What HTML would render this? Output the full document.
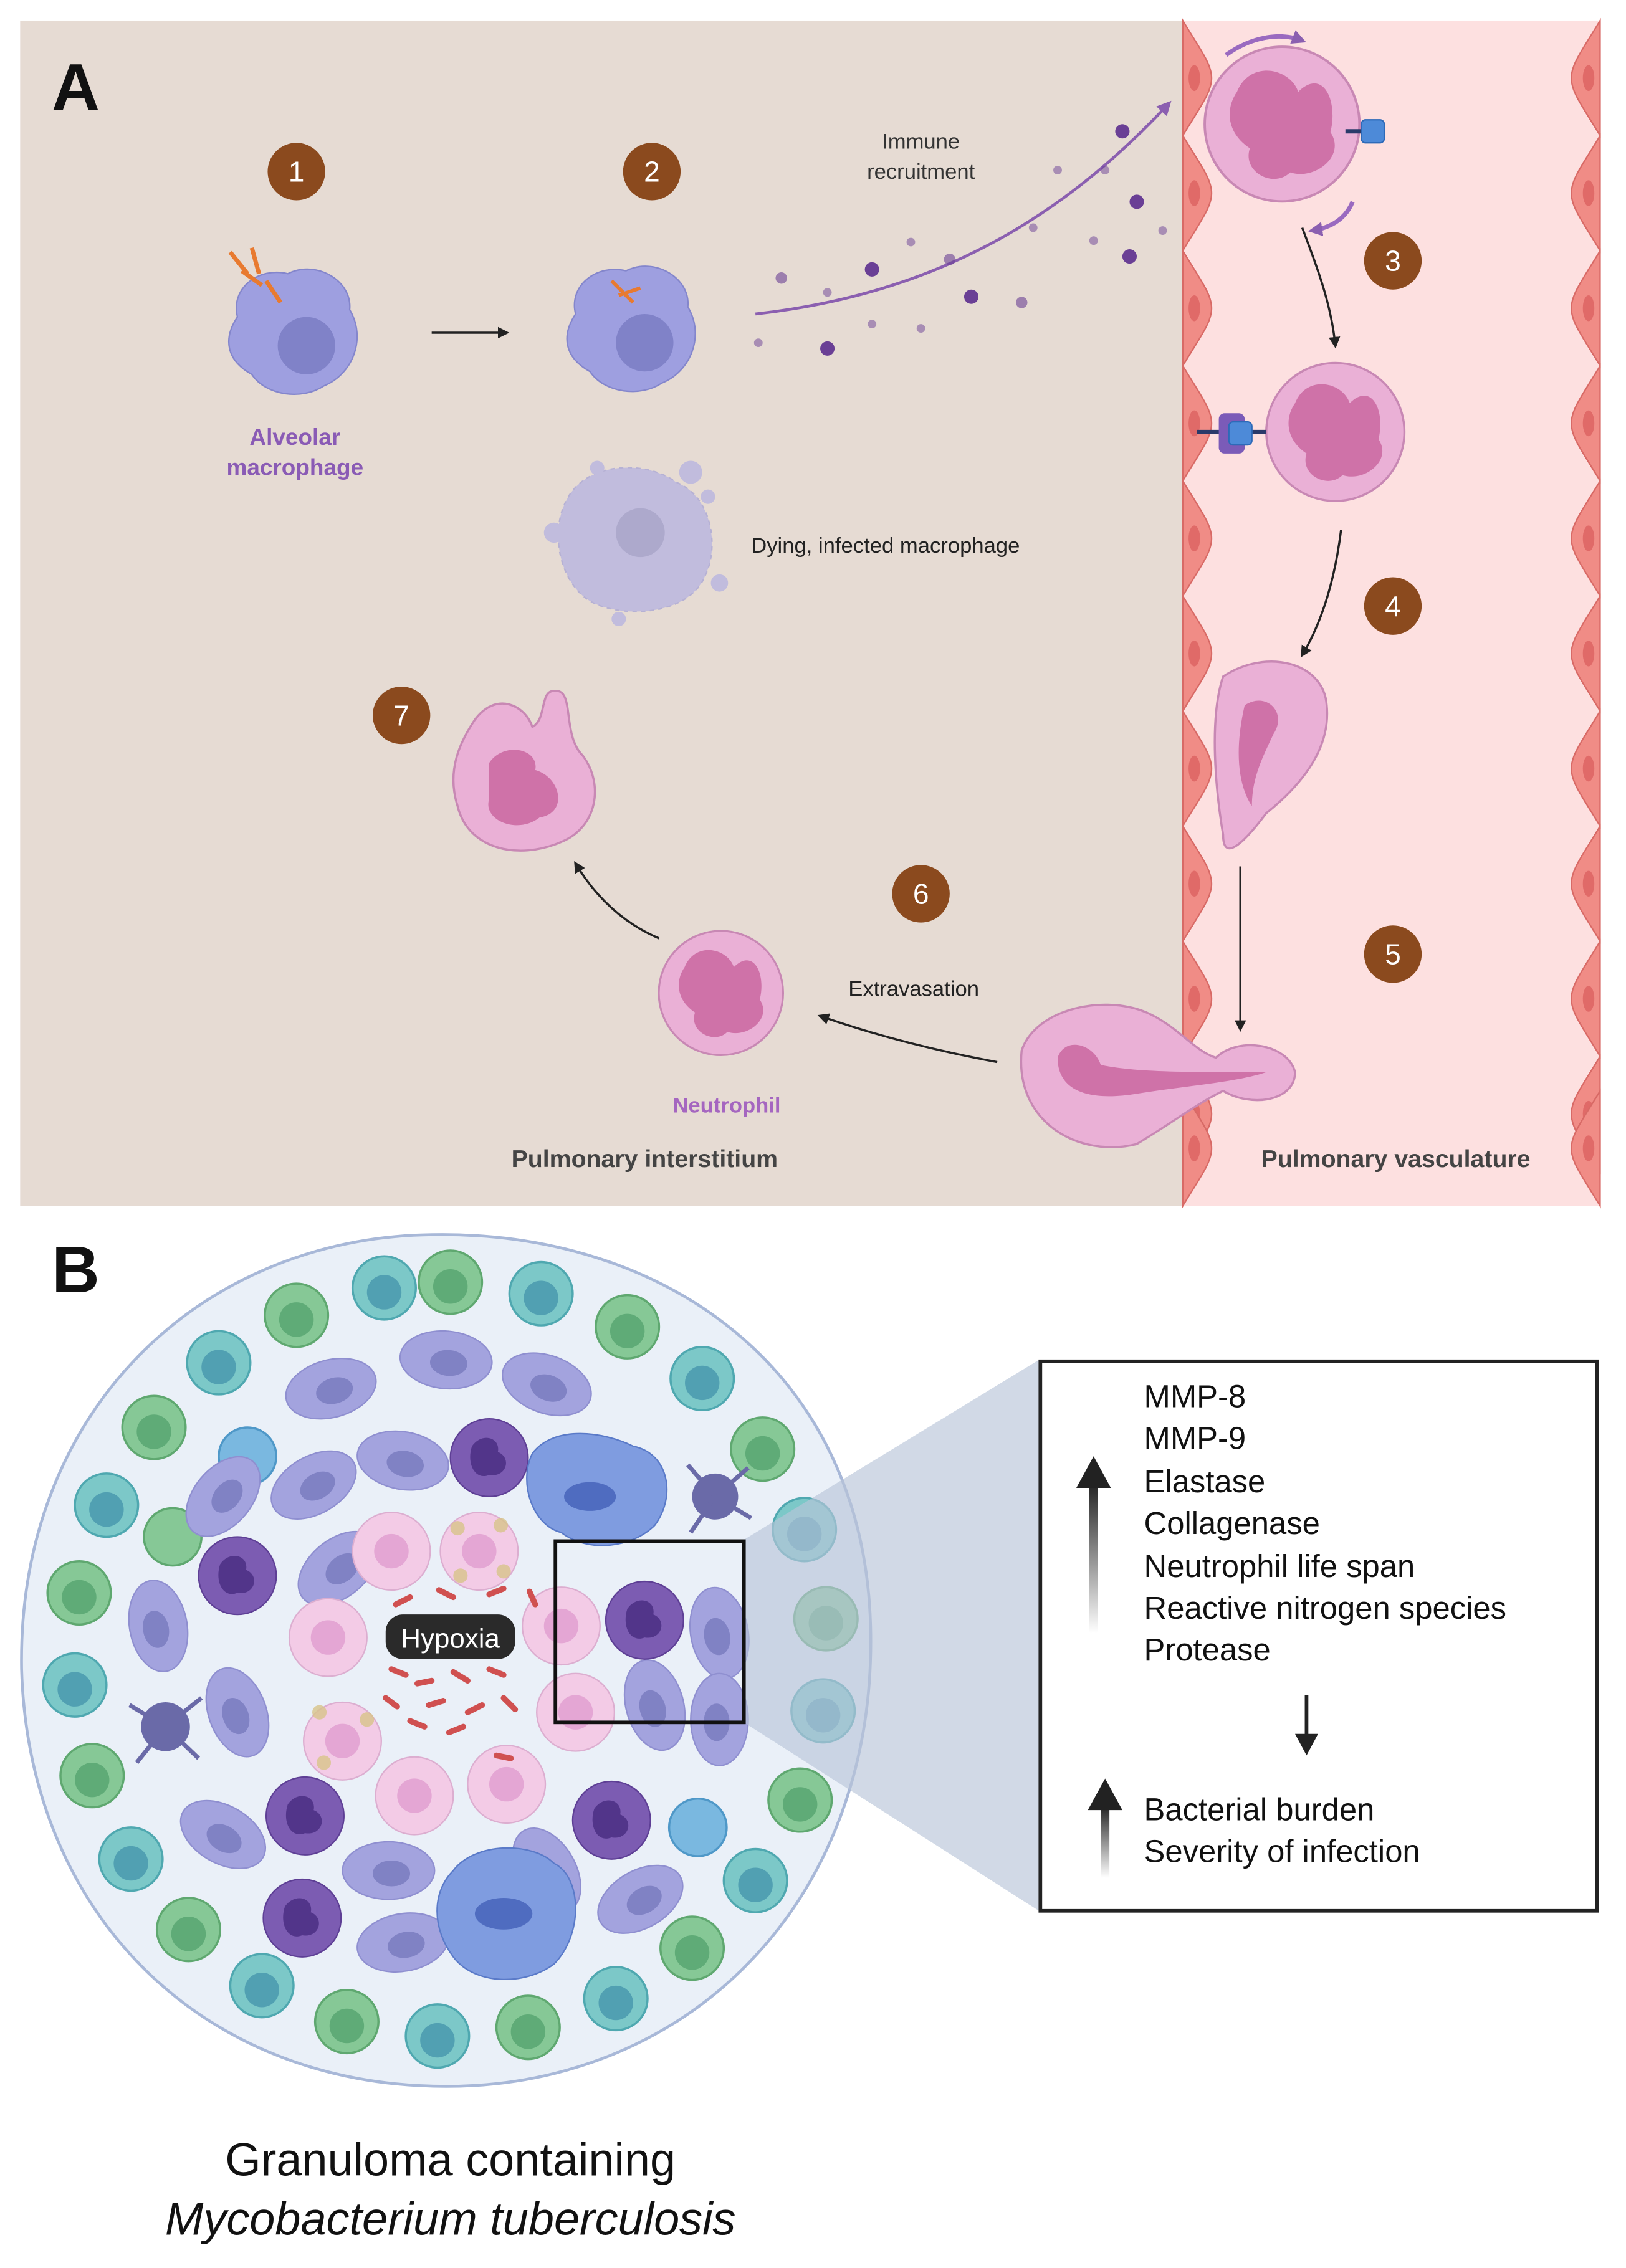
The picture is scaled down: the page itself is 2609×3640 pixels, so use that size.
<!DOCTYPE html>
<html><head><meta charset="utf-8"><style>
html,body{margin:0;padding:0;background:#fff}
svg{display:block;width:2609px;height:3640px}
text{font-family:"Liberation Sans",sans-serif}
</style></head><body>
<svg viewBox="0 0 1130 1576" xmlns="http://www.w3.org/2000/svg">
<defs>
<marker id="ah" markerWidth="8" markerHeight="8" refX="6" refY="4" orient="auto" markerUnits="userSpaceOnUse"><path d="M0,0 L8,4 L0,8 Z" fill="#222"/></marker>
<marker id="ahp" markerWidth="10" markerHeight="10" refX="7" refY="5" orient="auto" markerUnits="userSpaceOnUse"><path d="M0,0 L10,5 L0,10 Z" fill="#8b5fb0"/></marker>
<linearGradient id="ga" x1="0" y1="1" x2="0" y2="0"><stop offset="0" stop-color="#222" stop-opacity="0"/><stop offset="1" stop-color="#222"/></linearGradient>
<g id="endo"><path d="M0,0 C12,20 20,30 20,40 C20,50 12,60 0,80 Z" fill="#f08c86" stroke="#d86a66" stroke-width="1"/><ellipse cx="8" cy="40" rx="4" ry="9" fill="#e06a68"/></g>
<g id="endoR"><path d="M20,0 C8,20 0,30 0,40 C0,50 8,60 20,80 Z" fill="#f08c86" stroke="#d86a66" stroke-width="1"/><ellipse cx="12" cy="40" rx="4" ry="9" fill="#e06a68"/></g>
<g id="neut"><circle r="48" fill="#eab0d6" stroke="#c888b4" stroke-width="1.5"/><path d="M-28,-20 C-20,-40 5,-35 10,-20 C25,-35 35,-15 30,5 C40,20 20,35 5,30 C-5,40 -25,30 -20,15 C-35,5 -35,-10 -28,-20 Z" fill="#cf72a8"/></g>
<g id="mac"><path d="M-40,-10 C-45,-30 -25,-45 -5,-40 C15,-50 40,-35 38,-15 C50,5 40,30 20,38 C5,48 -20,45 -30,30 C-48,20 -50,5 -40,-10 Z" fill="#9e9fe0" stroke="#8486cc" stroke-width="1"/><circle cx="8" cy="10" r="20" fill="#8082c8"/></g>
<g id="lav"><ellipse rx="32" ry="20" fill="#a3a3de" stroke="#8f8fd0"/><ellipse cx="2" cy="2" rx="13" ry="9" fill="#8082c4"/></g>
<g id="pn"><circle r="27" fill="#7c5cb2" stroke="#5e3f95"/><path d="M-12,-8 C-5,-18 8,-14 6,-4 C16,0 12,14 0,12 C-10,16 -16,4 -12,-8Z" fill="#52358a"/></g>
<g id="pk"><circle r="27" fill="#f3cbe6" stroke="#dcaed0"/><circle r="12" fill="#e4a6d4"/></g>
</defs>

<!-- Panel A -->
<rect x="14" y="14" width="808" height="824" fill="#e6dbd3"/>
<rect x="822" y="14" width="290" height="824" fill="#fde0e0"/>
<g>
<use href="#endo" x="822" y="14"/><use href="#endo" x="822" y="94"/><use href="#endo" x="822" y="174"/><use href="#endo" x="822" y="254"/><use href="#endo" x="822" y="334"/><use href="#endo" x="822" y="414"/><use href="#endo" x="822" y="494"/><use href="#endo" x="822" y="574"/><use href="#endo" x="822" y="654"/><use href="#endo" x="822" y="734"/><use href="#endo" x="822" y="758"/>
<use href="#endoR" x="1092" y="14"/><use href="#endoR" x="1092" y="94"/><use href="#endoR" x="1092" y="174"/><use href="#endoR" x="1092" y="254"/><use href="#endoR" x="1092" y="334"/><use href="#endoR" x="1092" y="414"/><use href="#endoR" x="1092" y="494"/><use href="#endoR" x="1092" y="574"/><use href="#endoR" x="1092" y="654"/><use href="#endoR" x="1092" y="734"/><use href="#endoR" x="1092" y="758"/>
</g>
<text x="36" y="76" font-size="46" font-weight="bold" fill="#111">A</text>

<!-- badges -->
<g font-size="20" fill="#fff" text-anchor="middle">
<circle cx="206" cy="119" r="20" fill="#8b4a1e"/><text x="206" y="126">1</text>
<circle cx="453" cy="119" r="20" fill="#8b4a1e"/><text x="453" y="126">2</text>
<circle cx="968" cy="181" r="20" fill="#8b4a1e"/><text x="968" y="188">3</text>
<circle cx="968" cy="421" r="20" fill="#8b4a1e"/><text x="968" y="428">4</text>
<circle cx="968" cy="663" r="20" fill="#8b4a1e"/><text x="968" y="670">5</text>
<circle cx="640" cy="621" r="20" fill="#8b4a1e"/><text x="640" y="628">6</text>
<circle cx="279" cy="497" r="20" fill="#8b4a1e"/><text x="279" y="504">7</text>
</g>

<use href="#mac" x="205" y="230"/>
<g stroke="#e87a30" stroke-width="3"><line x1="160" y1="175" x2="172" y2="190"/><line x1="175" y1="172" x2="180" y2="190"/><line x1="185" y1="195" x2="195" y2="210"/><line x1="168" y1="188" x2="182" y2="198"/></g>
<line x1="300" y1="231" x2="352" y2="231" stroke="#222" stroke-width="1.5" marker-end="url(#ah)"/>
<use href="#mac" x="440" y="228"/>
<g stroke="#e87a30" stroke-width="2.5"><line x1="425" y1="195" x2="440" y2="210"/><line x1="430" y1="205" x2="445" y2="200"/></g>
<text x="205" y="309" font-size="16" font-weight="bold" fill="#8a5bb5" text-anchor="middle">Alveolar</text>
<text x="205" y="330" font-size="16" font-weight="bold" fill="#8a5bb5" text-anchor="middle">macrophage</text>

<path d="M525,218 C640,205 730,160 812,72" fill="none" stroke="#8b5fb0" stroke-width="2" marker-end="url(#ahp)"/>
<g fill="#6a3f95">
<circle cx="543" cy="193" r="4" opacity=".6"/><circle cx="575" cy="203" r="3" opacity=".5"/><circle cx="606" cy="187" r="5"/><circle cx="633" cy="168" r="3" opacity=".5"/><circle cx="660" cy="180" r="4" opacity=".6"/><circle cx="675" cy="206" r="5"/><circle cx="710" cy="210" r="4" opacity=".6"/><circle cx="735" cy="118" r="3" opacity=".5"/><circle cx="780" cy="91" r="5"/><circle cx="768" cy="118" r="3" opacity=".5"/><circle cx="790" cy="140" r="5"/><circle cx="808" cy="160" r="3" opacity=".5"/><circle cx="785" cy="178" r="5"/><circle cx="760" cy="167" r="3" opacity=".5"/><circle cx="575" cy="242" r="5"/><circle cx="527" cy="238" r="3" opacity=".5"/><circle cx="606" cy="225" r="3" opacity=".5"/><circle cx="640" cy="228" r="3" opacity=".5"/><circle cx="718" cy="158" r="3" opacity=".5"/>
</g>
<text x="640" y="103" font-size="15" fill="#333" text-anchor="middle">Immune</text>
<text x="640" y="124" font-size="15" fill="#333" text-anchor="middle">recruitment</text>

<!-- dying macrophage -->
<g opacity=".55">
<path d="M395,345 C410,320 450,320 470,335 C495,345 500,380 490,400 C480,425 440,430 415,420 C390,410 380,370 395,345Z" fill="#a3a3e6" stroke="#8f8fd6" stroke-dasharray="3 3"/>
<circle cx="445" cy="370" r="17" fill="#8082c8"/>
<circle cx="480" cy="328" r="8" fill="#a3a3e6"/><circle cx="492" cy="345" r="5" fill="#a3a3e6"/><circle cx="500" cy="405" r="6" fill="#a3a3e6"/><circle cx="430" cy="430" r="5" fill="#a3a3e6"/><circle cx="385" cy="370" r="7" fill="#a3a3e6"/><circle cx="415" cy="325" r="5" fill="#a3a3e6"/>
</g>
<text x="522" y="384" font-size="15" fill="#222">Dying, infected macrophage</text>

<!-- neutrophils in vessel -->
<use href="#neut" x="891" y="86" transform="translate(891 86) scale(1.12) translate(-891 -86)"/>
<line x1="935" y1="91" x2="948" y2="91" stroke="#2a3a6a" stroke-width="3"/>
<rect x="946" y="83" width="16" height="16" rx="3" fill="#4d8ad8" stroke="#2d6ab8"/>
<path d="M852,38 C870,25 890,22 905,28" fill="none" stroke="#9a6ac0" stroke-width="3" marker-end="url(#ahp)"/>
<path d="M940,140 C935,152 925,158 912,160" fill="none" stroke="#9a6ac0" stroke-width="3" marker-end="url(#ahp)"/>
<path d="M905,158 C915,185 925,210 928,240" fill="none" stroke="#222" stroke-width="1.5" marker-end="url(#ah)"/>
<use href="#neut" x="928" y="300"/>
<line x1="832" y1="300" x2="880" y2="300" stroke="#2a3a6a" stroke-width="3"/>
<rect x="847" y="287" width="18" height="28" rx="4" fill="#7b5bb8"/>
<rect x="854" y="293" width="16" height="16" rx="3" fill="#4d8ad8" stroke="#2d6ab8"/>
<path d="M932,368 C928,400 920,430 905,455" fill="none" stroke="#222" stroke-width="1.5" marker-end="url(#ah)"/>
<path d="M850,470 C880,450 920,460 922,490 C925,520 905,545 880,565 C865,585 850,600 850,580 C845,550 840,500 850,470Z" fill="#eab0d6" stroke="#c888b4" stroke-width="1.5"/>
<path d="M865,490 C880,480 895,495 885,510 C878,525 870,540 870,560 C860,545 858,520 865,490Z" fill="#cf72a8"/>
<line x1="862" y1="602" x2="862" y2="715" stroke="#222" stroke-width="1.5" marker-end="url(#ah)"/>
<path d="M710,730 C720,700 770,690 800,705 C820,715 830,730 845,735 C860,720 895,725 900,745 C900,765 870,770 850,758 C830,768 815,780 790,795 C750,805 705,780 710,730Z" fill="#eab0d6" stroke="#c888b4" stroke-width="1.5"/>
<path d="M735,735 C740,720 760,725 765,740 C790,745 820,745 880,745 C860,752 820,755 790,760 C760,765 735,760 735,735Z" fill="#cf72a8"/>
<path d="M693,738 C650,730 610,720 570,706" fill="none" stroke="#222" stroke-width="1.5" marker-end="url(#ah)"/>
<text x="635" y="692" font-size="15" fill="#222" text-anchor="middle">Extravasation</text>
<use href="#neut" x="501" y="690" transform="translate(501 690) scale(0.9) translate(-501 -690)"/>
<text x="505" y="773" font-size="15" font-weight="bold" fill="#a566c0" text-anchor="middle">Neutrophil</text>
<path d="M458,652 C430,640 412,620 400,600" fill="none" stroke="#222" stroke-width="1.5" marker-end="url(#ah)"/>
<path d="M330,500 C345,480 365,490 370,505 C380,500 375,480 385,480 C400,478 390,510 405,525 C420,545 415,575 390,585 C360,598 325,590 318,560 C310,535 320,515 330,500Z" fill="#eab0d6" stroke="#c888b4" stroke-width="1.5"/>
<path d="M340,530 C350,515 375,520 372,535 C390,540 395,565 375,568 C360,580 335,570 340,555Z" fill="#cf72a8"/>
<text x="448" y="811" font-size="17" font-weight="bold" fill="#444" text-anchor="middle">Pulmonary interstitium</text>
<text x="970" y="811" font-size="17" font-weight="bold" fill="#444" text-anchor="middle">Pulmonary vasculature</text>

<!-- Panel B -->
<text x="36" y="898" font-size="46" font-weight="bold" fill="#111">B</text>
<path d="M300,858 C460,855 600,950 605,1130 C610,1320 480,1450 310,1450 C140,1450 20,1330 15,1160 C12,980 140,860 300,858Z" fill="#eaf0f8" stroke="#a8b8d8" stroke-width="2"/>
<g stroke-width="1.5">
<g fill="#86c896" stroke="#5fa870"><circle cx="313" cy="891" r="22"/><circle cx="436" cy="922" r="22"/><circle cx="530" cy="1007" r="22"/><circle cx="574" cy="1125" r="22"/><circle cx="556" cy="1251" r="22"/><circle cx="481" cy="1354" r="22"/><circle cx="367" cy="1409" r="22"/><circle cx="241" cy="1405" r="22"/><circle cx="131" cy="1341" r="22"/><circle cx="64" cy="1234" r="22"/><circle cx="55" cy="1107" r="22"/><circle cx="107" cy="992" r="22"/><circle cx="206" cy="914" r="22"/></g>
<g fill="#7cc8c8" stroke="#4fa8b0"><circle cx="376" cy="899" r="22"/><circle cx="488" cy="958" r="22"/><circle cx="559" cy="1063" r="22"/><circle cx="572" cy="1189" r="22"/><circle cx="525" cy="1307" r="22"/><circle cx="428" cy="1389" r="22"/><circle cx="304" cy="1415" r="22"/><circle cx="182" cy="1380" r="22"/><circle cx="91" cy="1292" r="22"/><circle cx="52" cy="1171" r="22"/><circle cx="74" cy="1046" r="22"/><circle cx="152" cy="947" r="22"/><circle cx="267" cy="895" r="22"/></g>
<g fill="#4f9e6a" opacity=".7"><circle cx="313" cy="894" r="12"/><circle cx="436" cy="925" r="12"/><circle cx="530" cy="1010" r="12"/><circle cx="574" cy="1128" r="12"/><circle cx="556" cy="1254" r="12"/><circle cx="481" cy="1357" r="12"/><circle cx="367" cy="1412" r="12"/><circle cx="241" cy="1408" r="12"/><circle cx="131" cy="1344" r="12"/><circle cx="64" cy="1237" r="12"/><circle cx="55" cy="1110" r="12"/><circle cx="107" cy="995" r="12"/><circle cx="206" cy="917" r="12"/></g>
<g fill="#3f8ea8" opacity=".7"><circle cx="376" cy="902" r="12"/><circle cx="488" cy="961" r="12"/><circle cx="559" cy="1066" r="12"/><circle cx="572" cy="1192" r="12"/><circle cx="525" cy="1310" r="12"/><circle cx="428" cy="1392" r="12"/><circle cx="304" cy="1418" r="12"/><circle cx="182" cy="1383" r="12"/><circle cx="91" cy="1295" r="12"/><circle cx="52" cy="1174" r="12"/><circle cx="74" cy="1049" r="12"/><circle cx="152" cy="950" r="12"/><circle cx="267" cy="898" r="12"/></g>
<circle cx="172" cy="1012" r="20" fill="#7ab8e0" stroke="#4f98c8"/>
<circle cx="120" cy="1068" r="20" fill="#86c896" stroke="#5fa870"/>
<circle cx="485" cy="1270" r="20" fill="#7ab8e0" stroke="#4f98c8"/>
</g>
<g>
<use href="#lav" transform="translate(230 965) rotate(-15)"/><use href="#lav" transform="translate(310 945) rotate(5)"/><use href="#lav" transform="translate(380 962) rotate(20)"/>
<use href="#lav" transform="translate(155 1040) rotate(-50)"/><use href="#lav" transform="translate(218 1032) rotate(-30)"/><use href="#lav" transform="translate(280 1015) rotate(10)"/>
<use href="#lav" transform="translate(110 1130) rotate(80)"/><use href="#lav" transform="translate(165 1190) rotate(70)"/><use href="#lav" transform="translate(155 1275) rotate(30)"/>
<use href="#lav" transform="translate(270 1300) rotate(0)"/><use href="#lav" transform="translate(280 1350) rotate(-10)"/><use href="#lav" transform="translate(445 1320) rotate(-30)"/>
<use href="#lav" transform="translate(500 1135) rotate(80)"/><use href="#lav" transform="translate(455 1185) rotate(75)"/><use href="#lav" transform="translate(500 1195) rotate(90)"/>
<use href="#lav" transform="translate(380 1300) rotate(60)"/><use href="#lav" transform="translate(235 1090) rotate(-40)"/>
</g>
<g>
<use href="#pn" x="340" y="1013"/><use href="#pn" x="165" y="1095"/><use href="#pn" x="448" y="1126"/><use href="#pn" x="212" y="1262"/><use href="#pn" x="425" y="1265"/><use href="#pn" x="210" y="1333"/>
</g>
<g>
<use href="#pk" x="272" y="1078"/><use href="#pk" x="333" y="1078"/><use href="#pk" x="228" y="1138"/><use href="#pk" x="390" y="1130"/><use href="#pk" x="238" y="1210"/><use href="#pk" x="288" y="1248"/><use href="#pk" x="352" y="1240"/><use href="#pk" x="400" y="1190"/>
</g>
<g fill="#d8c48a" opacity=".8"><circle cx="318" cy="1062" r="5"/><circle cx="348" cy="1060" r="5"/><circle cx="350" cy="1092" r="5"/><circle cx="320" cy="1095" r="5"/><circle cx="222" cy="1190" r="5"/><circle cx="255" cy="1195" r="5"/><circle cx="225" cy="1225" r="5"/></g>
<path d="M370,1010 C385,990 420,995 440,1005 C465,1010 470,1040 455,1060 C440,1075 410,1080 390,1065 C370,1060 360,1030 370,1010Z" fill="#7f9ce0" stroke="#5a7ac8"/>
<ellipse cx="410" cy="1040" rx="18" ry="10" fill="#4f6cc0"/>
<path d="M315,1300 C330,1280 370,1280 385,1295 C405,1305 405,1345 385,1365 C365,1380 330,1380 315,1360 C300,1340 300,1315 315,1300Z" fill="#7f9ce0" stroke="#5a7ac8"/>
<ellipse cx="350" cy="1330" rx="20" ry="11" fill="#4f6cc0"/>
<g fill="#6a6aa8"><circle cx="497" cy="1040" r="16"/><circle cx="115" cy="1200" r="17"/></g>
<g stroke="#6a6aa8" stroke-width="3"><line x1="497" y1="1040" x2="520" y2="1020"/><line x1="497" y1="1040" x2="478" y2="1018"/><line x1="497" y1="1040" x2="522" y2="1055"/><line x1="497" y1="1040" x2="480" y2="1065"/><line x1="115" y1="1200" x2="90" y2="1185"/><line x1="115" y1="1200" x2="95" y2="1225"/><line x1="115" y1="1200" x2="140" y2="1180"/><line x1="115" y1="1200" x2="138" y2="1222"/></g>
<g stroke="#d05050" stroke-width="4" stroke-linecap="round">
<line x1="275" y1="1115" x2="285" y2="1110"/><line x1="305" y1="1105" x2="315" y2="1110"/><line x1="340" y1="1108" x2="350" y2="1104"/><line x1="368" y1="1106" x2="372" y2="1115"/>
<line x1="272" y1="1160" x2="282" y2="1164"/><line x1="290" y1="1170" x2="300" y2="1168"/><line x1="315" y1="1162" x2="325" y2="1168"/><line x1="340" y1="1160" x2="350" y2="1164"/>
<line x1="268" y1="1180" x2="276" y2="1186"/><line x1="298" y1="1185" x2="308" y2="1182"/><line x1="325" y1="1190" x2="335" y2="1185"/><line x1="350" y1="1180" x2="358" y2="1188"/>
<line x1="285" y1="1196" x2="295" y2="1200"/><line x1="312" y1="1204" x2="322" y2="1200"/><line x1="345" y1="1220" x2="355" y2="1222"/>
</g>
<rect x="268" y="1122" width="90" height="31" rx="12" fill="#2a2a2a"/>
<text x="313" y="1145" font-size="19" fill="#fff" text-anchor="middle">Hypoxia</text>

<polygon points="517,1070 722,945 722,1328 517,1197" fill="#b8c4d8" opacity=".65"/>
<rect x="386" y="1071" width="131" height="126" fill="none" stroke="#111" stroke-width="2.5"/>
<rect x="723" y="946" width="387" height="382" fill="#fff" stroke="#222" stroke-width="2.5"/>
<g font-size="22" fill="#111">
<text x="795" y="978">MMP-8</text><text x="795" y="1007">MMP-9</text><text x="795" y="1037">Elastase</text><text x="795" y="1066">Collagenase</text><text x="795" y="1096">Neutrophil life span</text><text x="795" y="1125">Reactive nitrogen species</text><text x="795" y="1154">Protease</text>
<text x="795" y="1265">Bacterial burden</text><text x="795" y="1294">Severity of infection</text>
</g>
<rect x="757" y="1030" width="6" height="105" fill="url(#ga)"/>
<polygon points="748,1034 760,1012 772,1034" fill="#222"/>
<rect x="765" y="1255" width="6" height="50" fill="url(#ga)"/>
<polygon points="756,1258 768,1236 780,1258" fill="#222"/>
<line x1="908" y1="1178" x2="908" y2="1208" stroke="#222" stroke-width="2.5"/>
<polygon points="900,1205 908,1220 916,1205" fill="#222"/>

<text x="313" y="1512" font-size="32" fill="#111" text-anchor="middle">Granuloma containing</text>
<text x="313" y="1553" font-size="32" font-style="italic" fill="#111" text-anchor="middle">Mycobacterium tuberculosis</text>
</svg>
</body></html>
